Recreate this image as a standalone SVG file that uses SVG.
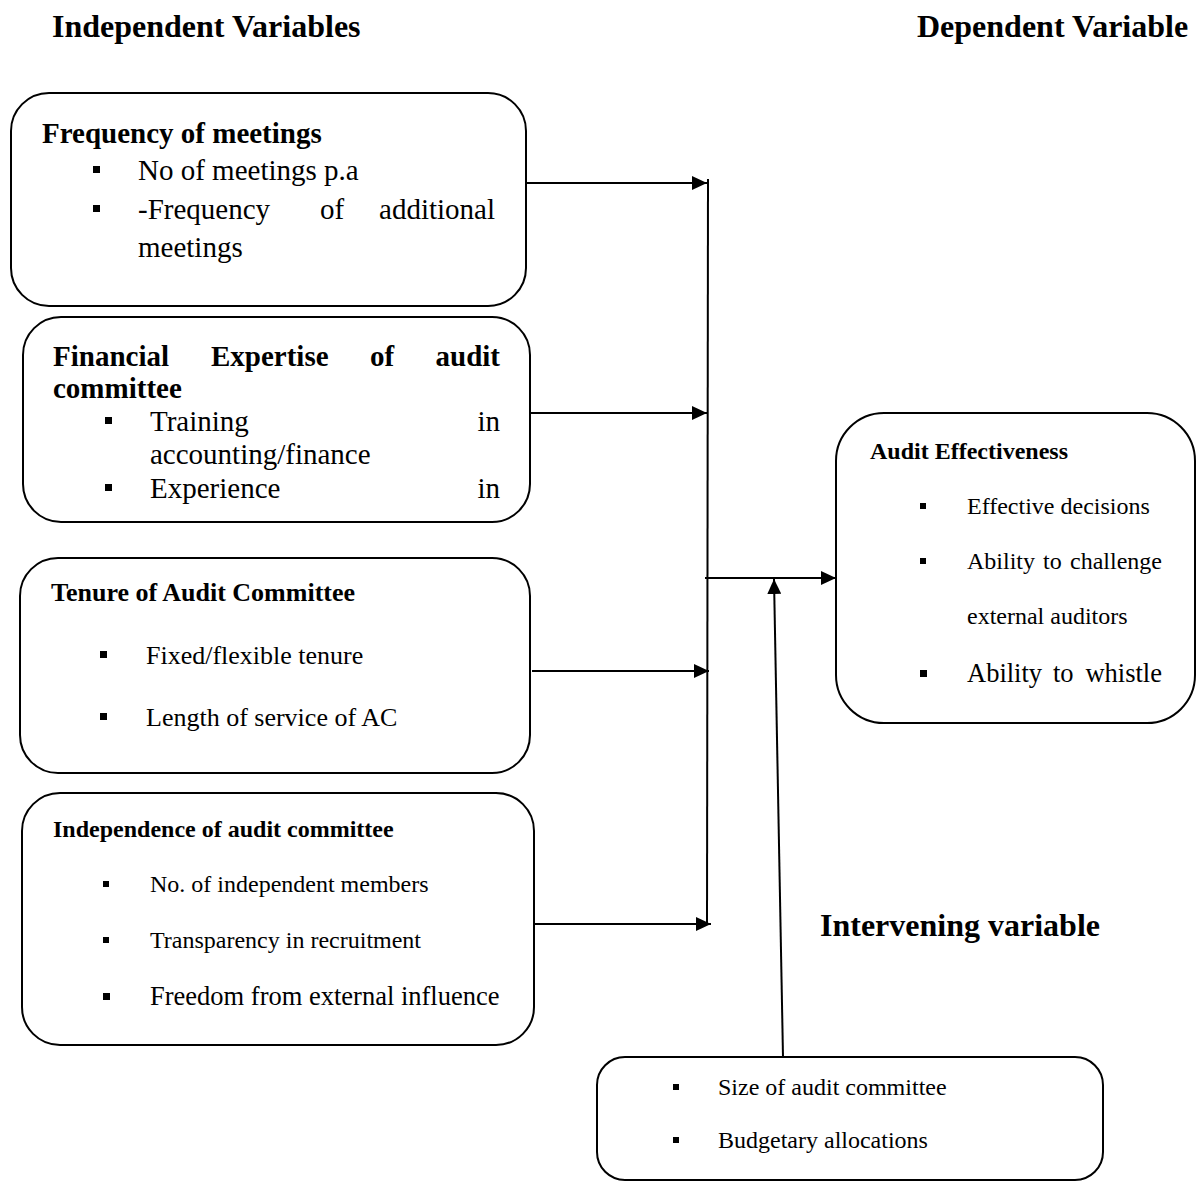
<svg xmlns="http://www.w3.org/2000/svg" width="1199" height="1183" viewBox="0 0 1199 1183">
<style>
  .box { fill: #ffffff; stroke: #000000; stroke-width: 2; }
  .t { font-family: "Liberation Serif", "Times New Roman", serif; fill: #000000; }
  .b { font-weight: bold; }
  .conn { stroke: #000000; stroke-width: 2; fill: none; }
  .bul { fill: #000000; }
</style>
<defs>
  <marker id="arr" viewBox="0 0 15 14" refX="15" refY="7" markerWidth="15" markerHeight="14" markerUnits="userSpaceOnUse" orient="auto">
    <path d="M0,0 L15,7 L0,14 z" fill="#000000"/>
  </marker>
</defs>

<rect width="1199" height="1183" fill="#ffffff"/>

<g id="headers">
  <text class="t b" x="52" y="37" font-size="32">Independent Variables</text>
  <text class="t b" x="917" y="37" font-size="32">Dependent Variable</text>
  <text class="t b" x="820" y="936" font-size="32">Intervening variable</text>
</g>

<g id="connectors">
  <line class="conn" x1="527" y1="183" x2="707" y2="183" marker-end="url(#arr)"/>
  <line class="conn" x1="528" y1="413" x2="707" y2="413" marker-end="url(#arr)"/>
  <line class="conn" x1="532" y1="671" x2="709" y2="671" marker-end="url(#arr)"/>
  <line class="conn" x1="535" y1="924" x2="711" y2="924" marker-end="url(#arr)"/>
  <line class="conn" x1="708" y1="179" x2="707" y2="925"/>
  <line class="conn" x1="705" y1="578" x2="836" y2="578" marker-end="url(#arr)"/>
  <line class="conn" x1="783" y1="1057" x2="774" y2="579" marker-end="url(#arr)"/>
</g>

<g id="node-frequency">
  <rect class="box" x="11" y="93" width="515" height="213" rx="38"/>
  <text class="t b" x="42" y="143" font-size="29">Frequency of meetings</text>
  <rect class="bul" x="93" y="166" width="7" height="7"/>
  <text class="t" x="138" y="180" font-size="29">No of meetings p.a</text>
  <rect class="bul" x="93" y="205" width="7" height="7"/>
  <text class="t" x="138" y="219" font-size="29">-Frequency</text>
  <text class="t" x="332" y="219" font-size="29" text-anchor="middle">of</text>
  <text class="t" x="495" y="219" font-size="29" text-anchor="end">additional</text>
  <text class="t" x="138" y="257" font-size="29">meetings</text>
</g>

<g id="node-expertise">
  <rect class="box" x="23" y="317" width="507" height="205" rx="38"/>
  <text class="t b" x="53" y="366" font-size="29">Financial</text>
  <text class="t b" x="211" y="366" font-size="29">Expertise</text>
  <text class="t b" x="370" y="366" font-size="29">of</text>
  <text class="t b" x="500" y="366" font-size="29" text-anchor="end">audit</text>
  <text class="t b" x="53" y="398" font-size="29">committee</text>
  <rect class="bul" x="105" y="417" width="7" height="7"/>
  <text class="t" x="150" y="431" font-size="29">Training</text>
  <text class="t" x="500" y="431" font-size="29" text-anchor="end">in</text>
  <text class="t" x="150" y="464" font-size="29">accounting/finance</text>
  <rect class="bul" x="105" y="484" width="7" height="7"/>
  <text class="t" x="150" y="498" font-size="29">Experience</text>
  <text class="t" x="500" y="498" font-size="29" text-anchor="end">in</text>
</g>

<g id="node-tenure">
  <rect class="box" x="20" y="558" width="510" height="215" rx="38"/>
  <text class="t b" x="51" y="601" font-size="26">Tenure of Audit Committee</text>
  <rect class="bul" x="100" y="651" width="7" height="7"/>
  <text class="t" x="146" y="664" font-size="26">Fixed/flexible tenure</text>
  <rect class="bul" x="100" y="713" width="7" height="7"/>
  <text class="t" x="146" y="726" font-size="26">Length of service of AC</text>
</g>

<g id="node-independence">
  <rect class="box" x="22" y="793" width="512" height="252" rx="38"/>
  <text class="t b" x="53" y="837" font-size="24">Independence of audit committee</text>
  <rect class="bul" x="103" y="881" width="6" height="6"/>
  <text class="t" x="150" y="892" font-size="24">No. of independent members</text>
  <rect class="bul" x="103" y="937" width="6" height="6"/>
  <text class="t" x="150" y="948" font-size="24">Transparency in recruitment</text>
  <rect class="bul" x="103" y="993" width="7" height="7"/>
  <text class="t" x="150" y="1005" font-size="26.5">Freedom from external influence</text>
</g>

<g id="node-effectiveness">
  <rect class="box" x="836" y="413" width="359" height="310" rx="48"/>
  <text class="t b" x="870" y="459" font-size="24">Audit Effectiveness</text>
  <rect class="bul" x="920" y="503" width="6" height="6"/>
  <text class="t" x="967" y="514" font-size="24">Effective decisions</text>
  <rect class="bul" x="920" y="558" width="6" height="6"/>
  <text class="t" x="967" y="569" font-size="24">Ability</text>
  <text class="t" x="1043" y="569" font-size="24">to</text>
  <text class="t" x="1162" y="569" font-size="24" text-anchor="end">challenge</text>
  <text class="t" x="967" y="624" font-size="24">external auditors</text>
  <rect class="bul" x="920" y="670" width="7" height="7"/>
  <text class="t" x="967" y="682" font-size="26.5">Ability</text>
  <text class="t" x="1053" y="682" font-size="26.5">to</text>
  <text class="t" x="1162" y="682" font-size="26.5" text-anchor="end">whistle</text>
</g>

<g id="node-intervening">
  <rect class="box" x="597" y="1057" width="506" height="123" rx="28"/>
  <rect class="bul" x="673" y="1084" width="6" height="6"/>
  <text class="t" x="718" y="1095" font-size="24">Size of audit committee</text>
  <rect class="bul" x="673" y="1137" width="6" height="6"/>
  <text class="t" x="718" y="1148" font-size="24">Budgetary allocations</text>
</g>
</svg>
